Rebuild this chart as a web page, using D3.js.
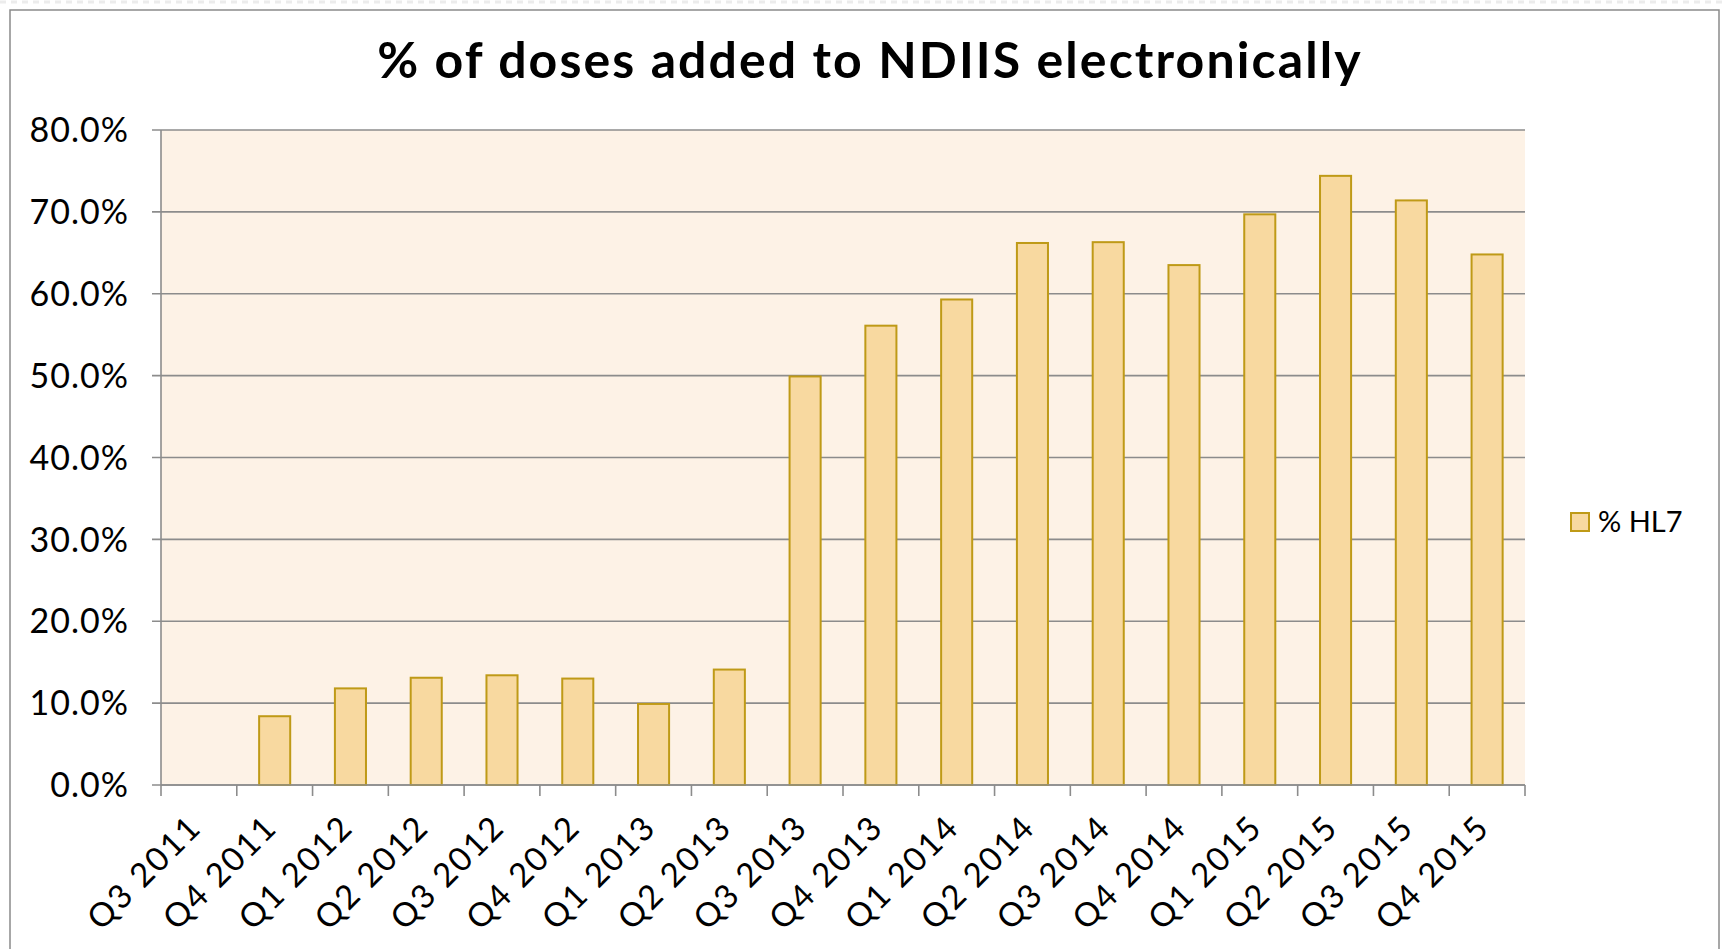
<!DOCTYPE html>
<html lang="en">
<head>
    <meta charset="UTF-8">
    <title>% of doses added to NDIIS electronically</title>
    <script src="https://d3js.org/d3.v7.min.js"></script>
</head>
<style>
    *{
        margin: 0;
        padding: 0;
    }
    body {
        background: #fff;
        overflow: hidden;
    }
    text {
        font-family: Lato, "DejaVu Sans", sans-serif;
        fill: #000;
    }
</style>
<body>
<script>
    var quarters = ["Q3 2011", "Q4 2011", "Q1 2012", "Q2 2012", "Q3 2012", "Q4 2012",
                    "Q1 2013", "Q2 2013", "Q3 2013", "Q4 2013", "Q1 2014", "Q2 2014",
                    "Q3 2014", "Q4 2014", "Q1 2015", "Q2 2015", "Q3 2015", "Q4 2015"]
    var hl7Pct = [0, 8.4, 11.8, 13.1, 13.4, 13.0,
                  9.9, 14.1, 49.9, 56.1, 59.3, 66.2,
                  66.3, 63.5, 69.7, 74.4, 71.4, 64.8]
    var yTicks = [0, 10, 20, 30, 40, 50, 60, 70, 80]
    var seriesName = "% HL7"
    var chartTitle = "% of doses added to NDIIS electronically"

    var W = 1725, H = 949
    var plot = {left: 161, right: 1525, top: 130, bottom: 785}

    var svg = d3.select("body")
            .append("svg")
            .attr("width", W)
            .attr("height", H)

    // slide frame
    svg.append("line")
        .attr("x1", 0).attr("x2", W)
        .attr("y1", 2).attr("y2", 2)
        .attr("stroke", "#ececec")
        .attr("stroke-width", 3)
        .attr("stroke-dasharray", "6,5")
    svg.append("rect")
        .attr("x", 10).attr("y", 10)
        .attr("width", 1709).attr("height", 960)
        .attr("fill", "#fff")
        .attr("stroke", "#8a8a8a")
        .attr("stroke-width", 1.5)

    var x = d3.scaleBand()
        .domain(quarters)
        .range([plot.left, plot.right])
        .paddingInner(0.59)
        .paddingOuter(0.295)

    var y = d3.scaleLinear()
        .domain([0, 80])
        .range([plot.bottom, plot.top])

    svg.append("rect")
        .attr("x", plot.left).attr("y", plot.top)
        .attr("width", plot.right - plot.left)
        .attr("height", plot.bottom - plot.top)
        .attr("fill", "#fdf2e6")

    // gridlines
    svg.append("g")
        .selectAll("line")
        .data(yTicks)
        .join("line")
        .attr("x1", plot.left - 9)
        .attr("x2", plot.right)
        .attr("y1", function(d) {return y(d)})
        .attr("y2", function(d) {return y(d)})
        .attr("stroke", "#8c8c8c")
        .attr("stroke-width", 1.6)

    // y tick labels
    svg.append("g")
        .selectAll("text")
        .data(yTicks)
        .join("text")
        .attr("x", plot.left - 32)
        .attr("y", function(d) {return y(d)})
        .attr("dy", "0.36em")
        .attr("text-anchor", "end")
        .style("font-size", "34px")
        .style("letter-spacing", "1px")
        .text(function(d) {return d3.format(".1f")(d) + "%"})

    // y axis line
    svg.append("line")
        .attr("x1", plot.left).attr("x2", plot.left)
        .attr("y1", plot.top).attr("y2", plot.bottom)
        .attr("stroke", "#8c8c8c")
        .attr("stroke-width", 1.6)

    // bars
    svg.append("g")
        .selectAll("rect")
        .data(quarters.map(function(q, i) {return {q: q, v: hl7Pct[i]}}).filter(function(d) {return d.v > 0}))
        .join("rect")
        .attr("x", function(d) {return x(d.q)})
        .attr("y", function(d) {return y(d.v)})
        .attr("width", x.bandwidth())
        .attr("height", function(d) {return y(0) - y(d.v)})
        .attr("fill", "#f8d9a0")
        .attr("stroke", "#bf9a17")
        .attr("stroke-width", 2)

    // x axis line + ticks at category boundaries
    var step = x.step()
    var bounds = d3.range(quarters.length + 1).map(function(i) {return plot.left + i * step})
    svg.append("line")
        .attr("x1", plot.left).attr("x2", plot.right)
        .attr("y1", plot.bottom).attr("y2", plot.bottom)
        .attr("stroke", "#8c8c8c")
        .attr("stroke-width", 1.6)
    svg.append("g")
        .selectAll("line")
        .data(bounds)
        .join("line")
        .attr("x1", function(d) {return d}).attr("x2", function(d) {return d})
        .attr("y1", plot.bottom).attr("y2", plot.bottom + 11)
        .attr("stroke", "#8c8c8c")
        .attr("stroke-width", 1.6)

    // x labels, rotated
    svg.append("g")
        .selectAll("text")
        .data(quarters)
        .join("text")
        .attr("transform", function(d) {
            return "translate(" + (x(d) + x.bandwidth() / 2 - 4) + "," + (plot.bottom + 36) + ") rotate(-45)"
        })
        .attr("dy", "0.36em")
        .attr("text-anchor", "end")
        .style("font-size", "33px")
        .style("letter-spacing", "2px")
        .text(function(d) {return d})

    // title
    svg.append("text")
        .attr("x", 870)
        .attr("y", 78)
        .attr("text-anchor", "middle")
        .style("font-size", "50px")
        .style("font-weight", "bold")
        .style("letter-spacing", "2.1px")
        .text(chartTitle)

    // legend
    var lg = svg.append("g").attr("transform", "translate(1571,513)")
    lg.append("rect")
        .attr("x", 0).attr("y", 0)
        .attr("width", 18).attr("height", 18)
        .attr("fill", "#f8d9a0")
        .attr("stroke", "#bf9a17")
        .attr("stroke-width", 2)
    lg.append("text")
        .attr("x", 27).attr("y", 9)
        .attr("dy", "0.36em")
        .style("font-size", "29px")
        .text(seriesName)
</script>
</body>
</html>
